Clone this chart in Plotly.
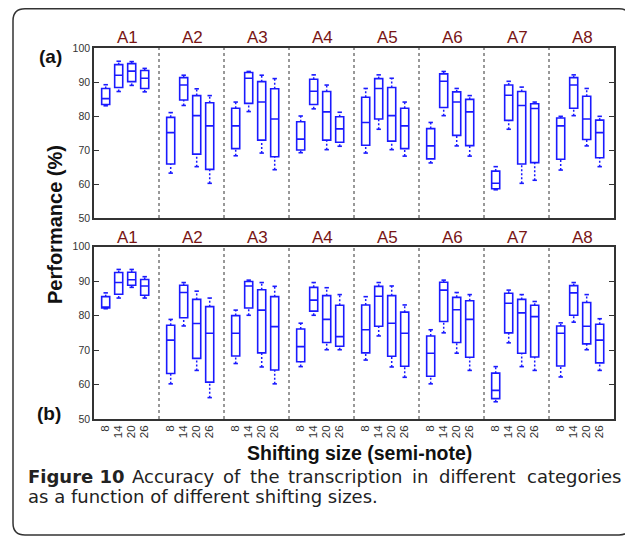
import plotly.graph_objects as go

# ---------------- data ----------------
groups = ["A1", "A2", "A3", "A4", "A5", "A6", "A7", "A8"]
shifts = ["8", "14", "20", "26"]

# Panel (a): per group, 4 boxes (shift 8,14,20,26)
a_low = [83, 87.2, 89, 87.1,  63.2, 83.1, 65.1, 60.2,  68.3, 81.3, 69.1, 64.2,  69.2, 82.1, 70.1, 71.1,
         69.1, 76.1, 70.1, 68.2,  66.2, 80.1, 71.2, 68.2,  58.3, 76.1, 60.2, 61.1,  64.1, 80.1, 71.2, 65.1]
a_q1 = [83.4, 88.4, 90.1, 88.1,  65.9, 84.7, 68.8, 64.3,  70.4, 83.7, 72.9, 68,  70, 83.4, 72.9, 72.3,
        71.4, 79.1, 72.6, 70.4,  67.4, 82.5, 74.3, 71.3,  58.6, 78.7, 65.9, 66.3,  67.3, 82.3, 73.1, 67.7]
a_med = [85.1, 92, 93.2, 91.1,  75.1, 89.1, 80.1, 77.1,  77.1, 91.1, 84.1, 79.1,  73.2, 87.3, 81.2, 76.2,
         78.1, 88.1, 80.1, 77.1,  71.2, 90.2, 84.1, 81.2,  60.2, 86.1, 83.1, 82.2,  77.1, 89.1, 79.1, 75.1]
a_q3 = [88.1, 95.1, 95.4, 93.4,  79.6, 91.3, 86, 83.9,  82.3, 92.8, 90.1, 88,  78.3, 90.8, 87.2, 79.8,
        85.5, 91, 88.4, 82.3,  76.3, 92.4, 87.1, 84.9,  63.8, 89.1, 87.2, 83.6,  79.4, 91.3, 85.8, 78.8]
a_high = [89.2, 96.1, 96, 94,  81, 92, 88, 86,  84.1, 93.1, 92, 91,  80, 92.1, 89.1, 81.1,
          88.1, 92.1, 91.1, 84.1,  78.1, 93.1, 88.1, 86,  65.1, 90.2, 88.5, 84.1,  79.9, 92.1, 88.1, 79.9]

# Panel (b)
b_low = [82, 85.1, 88.2, 85.1,  60.2, 77, 64.1, 56.2,  66.1, 80.1, 65.1, 60.2,  65.2, 80.1, 70.1, 70.1,
         67.1, 74.1, 65.1, 62.1,  60.2, 75, 69.1, 64.1,  55, 72.1, 65.2, 64.1,  62.2, 78.1, 70.1, 64.1]
b_q1 = [82.2, 86.2, 88.8, 85.9,  63.2, 79.4, 67.6, 60.7,  68.3, 82.2, 69.2, 64.2,  66.6, 81.3, 72.2, 71.1,
        69.2, 76.9, 68.2, 65.3,  62.4, 78.3, 72.2, 67.9,  55.9, 75, 69.1, 68,  65.4, 80.1, 71.8, 66.3]
b_med = [82.5, 89.6, 90.4, 88.6,  72.9, 86.7, 77.7, 74.9,  74.9, 88.6, 81.6, 76.8,  71, 84.5, 78.9, 73.9,
         75.9, 85.6, 77.8, 74.9,  69.1, 87.4, 81.7, 78.9,  58.3, 83.6, 80.8, 79.7,  74.9, 86.6, 76.9, 72.9]
b_q3 = [85.5, 92.5, 92.6, 90.5,  77.2, 88.8, 84.7, 82.6,  80, 89.9, 87.5, 85.5,  76.1, 88.2, 85.8, 83,
        83.1, 88.5, 85.8, 81,  74.1, 89.7, 85.3, 84.3,  63.3, 86.5, 84.7, 83,  77, 88.7, 83.8, 77.5]
b_high = [86.6, 93.4, 93.4, 91.3,  78.9, 89.6, 87.1, 85.1,  81.6, 90.3, 89.6, 88.5,  77.8, 89.6, 88.1, 86.1,
          85.5, 89.6, 88.6, 83.1,  75.9, 90.3, 86.7, 86.1,  65.2, 87.4, 86.1, 84.1,  77.9, 89.6, 86.1, 79.1]

y_ticks = [50, 60, 70, 80, 90, 100]

caption_words = ["<b>Figure 10</b>", "Accuracy", "of", "the", "transcription", "in", "different", "categories"]
caption_line2 = "as a function of different shifting sizes."

# ---------------- layout helpers ----------------
OFF = 8                       # default page body margin
W, H = 633 - OFF, 537 - OFF
L, R, T, B = 94 - OFF, 19, 48 - OFF, 118
PW, PH = W - L - R, H - T - B
BLUE = "#1a1aff"
DARKRED = "#781414"
FONT = "Liberation Sans, Arial"

def pxx(x):   # page pixel -> paper
    return (x - OFF - L) / PW

def pxy(y):
    return (H - B - (y - OFF)) / PH

positions = [g * 5 + 1 + i for g in range(len(groups)) for i in range(len(shifts))]
tick_text = [s for _ in groups for s in shifts]

fig = go.Figure()

def add_panel(low, q1, med, q3, high, xa, ya):
    fig.add_trace(go.Box(
        x=positions, q1=q1, median=med, q3=q3, lowerfence=q1, upperfence=q3,
        width=0.62, fillcolor="rgba(0,0,0,0)", line=dict(color=BLUE, width=1.6),
        whiskerwidth=0, boxpoints=False, xaxis=xa, yaxis=ya, showlegend=False,
        hoverinfo="skip"))
    wx, wy, cx, cy = [], [], [], []
    for p, lo, a, b, hi in zip(positions, low, q1, q3, high):
        wx += [p, p, None, p, p, None]
        wy += [lo, a, None, b, hi, None]
        cx += [p - 0.17, p + 0.17, None, p - 0.17, p + 0.17, None]
        cy += [lo, lo, None, hi, hi, None]
    fig.add_trace(go.Scatter(x=wx, y=wy, mode="lines", line=dict(color=BLUE, width=1.5, dash="2px,2px"),
                             xaxis=xa, yaxis=ya, showlegend=False, hoverinfo="skip"))
    fig.add_trace(go.Scatter(x=cx, y=cy, mode="lines", line=dict(color=BLUE, width=1.6),
                             xaxis=xa, yaxis=ya, showlegend=False, hoverinfo="skip"))

add_panel(a_low, a_q1, a_med, a_q3, a_high, "x2", "y2")
add_panel(b_low, b_q1, b_med, b_q3, b_high, "x", "y")

xrange = [0.1, len(groups) * 5 + 0.1]
axis_common = dict(range=xrange, showline=True, mirror=True, linecolor="#333", linewidth=1.5,
                   showgrid=False, zeroline=False)
yaxis_common = dict(range=[50, 100], tickvals=y_ticks, ticks="inside", ticklen=5, tickcolor="#333",
                    mirror="allticks", showline=True, linecolor="#333", linewidth=1.5,
                    showgrid=False, zeroline=False,
                    tickfont=dict(family=FONT, size=10.5, color="#333"))

top_dom = [pxy(218), 1.0]
bot_dom = [0.0, pxy(246.7)]

fig.update_layout(
    width=W, height=H, margin=dict(l=L, r=R, t=T, b=B),
    paper_bgcolor="white", plot_bgcolor="white", boxmode="overlay",
    xaxis=dict(**axis_common, anchor="y", tickvals=positions, ticktext=tick_text, tickangle=-90,
               ticks="", tickfont=dict(family=FONT, size=11.5, color="#333")),
    xaxis2=dict(**axis_common, anchor="y2", showticklabels=False, ticks="", matches="x"),
    yaxis=dict(**yaxis_common, domain=bot_dom, anchor="x"),
    yaxis2=dict(**yaxis_common, domain=top_dom, anchor="x2"),
)

# group dividers
for g in range(1, len(groups)):
    xv = g * 5 + 0.1
    for xa, ya in (("x", "y"), ("x2", "y2")):
        fig.add_shape(type="line", x0=xv, x1=xv, y0=0, y1=1, xref=xa, yref=ya + " domain",
                      line=dict(color="#333", width=1, dash="dot"))

# group titles
for g, name in enumerate(groups):
    cxg = g * 5 + 2.7
    for ypx in (38, 237):
        fig.add_annotation(x=cxg, xref="x", y=pxy(ypx), yref="paper", text=name, showarrow=False,
                           font=dict(family=FONT, size=17, color=DARKRED),
                           xanchor="center", yanchor="middle")

bold_font = dict(family=FONT, size=19, color="#111")
fig.add_annotation(x=pxx(50), y=pxy(57), xref="paper", yref="paper", text="<b>(a)</b>",
                   showarrow=False, font=bold_font, xanchor="center", yanchor="middle")
fig.add_annotation(x=pxx(49), y=pxy(413), xref="paper", yref="paper", text="<b>(b)</b>",
                   showarrow=False, font=bold_font, xanchor="center", yanchor="middle")
fig.add_annotation(x=pxx(55), y=pxy(225), xref="paper", yref="paper", text="<b>Performance (%)</b>",
                   textangle=-90, showarrow=False, font=dict(family=FONT, size=20, color="#111"),
                   xanchor="center", yanchor="middle")
fig.add_annotation(x=pxx(359), y=pxy(453), xref="paper", yref="paper",
                   text="<b>Shifting size (semi-note)</b>", showarrow=False,
                   font=dict(family=FONT, size=19.5, color="#111"),
                   xanchor="center", yanchor="middle")

# caption: justified first line (word by word), natural second line
cap_font = dict(family="DejaVu Sans", size=18, color="#222")
word_x = [26, 129.7, 221.3, 247.8, 286.4, 409.5, 437, 525.3]
for wtxt, wxp in zip(caption_words, word_x):
    fig.add_annotation(x=pxx(wxp), y=pxy(476), xref="paper", yref="paper", text=wtxt,
                       showarrow=False, font=cap_font, xanchor="left", yanchor="middle")
fig.add_annotation(x=pxx(26), y=pxy(497), xref="paper", yref="paper", text=caption_line2,
                   showarrow=False, font=cap_font, xanchor="left", yanchor="middle")

# rounded frame
x0, x1, y0, y1, r = 13, 631, 8.8, 535, 12
path = (f"M {pxx(x0 + r)},{pxy(y0)} L {pxx(x1 - r)},{pxy(y0)} Q {pxx(x1)},{pxy(y0)} {pxx(x1)},{pxy(y0 + r)} "
        f"L {pxx(x1)},{pxy(y1 - r)} Q {pxx(x1)},{pxy(y1)} {pxx(x1 - r)},{pxy(y1)} "
        f"L {pxx(x0 + r)},{pxy(y1)} Q {pxx(x0)},{pxy(y1)} {pxx(x0)},{pxy(y1 - r)} "
        f"L {pxx(x0)},{pxy(y0 + r)} Q {pxx(x0)},{pxy(y0)} {pxx(x0 + r)},{pxy(y0)} Z")
fig.add_shape(type="path", path=path, xref="paper", yref="paper", line=dict(color="#333", width=1.5))

fig.write_html("out.html")
